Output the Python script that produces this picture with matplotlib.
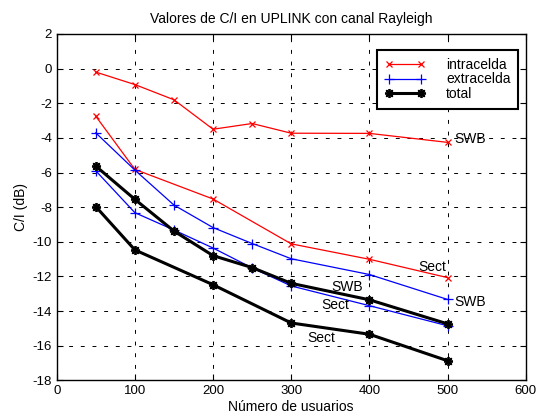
import matplotlib
matplotlib.use("Agg")
import matplotlib.pyplot as plt

plt.rcParams['font.family'] = ['Liberation Sans', 'DejaVu Sans']
plt.rcParams['axes.unicode_minus'] = False

# Data
x_full = [50, 100, 150, 200, 250, 300, 400, 500]
x_part = [50, 100, 200, 300, 400, 500]

intra_swb = [-0.2, -0.92, -1.8, -3.5, -3.17, -3.73, -3.74, -4.26]
intra_sect = [-2.75, -5.82, -7.53, -10.12, -11.01, -12.07]
extra_swb = [-3.71, -5.86, -7.88, -9.18, -10.1, -10.98, -11.89, -13.33]
extra_sect = [-5.9, -8.32, -9.32, -10.36, -11.51, -12.55, -13.69, -14.85]
total_swb = [-5.63, -7.55, -9.38, -10.8, -11.49, -12.4, -13.35, -14.74]
total_sect = [-7.97, -10.47, -12.48, -14.69, -15.34, -16.87]

title = "Valores de C/I en UPLINK con canal Rayleigh"
xlabel = "Número de usuarios"
ylabel = "C/I (dB)"
legend_labels = ["intracelda", "extracelda", "total"]

fig = plt.figure(figsize=(5.36, 4.16), dpi=100)
ax = fig.add_axes([0.1058, 0.0858, 0.875, 0.8325])

red_kw = dict(color='#ff0000', lw=0.9, marker='x', ms=4, mew=0.9)
blue_kw = dict(color='#0000ff', lw=0.9, marker='+', ms=7.5, mew=0.9)
black_kw = dict(color='black', lw=2.2, marker=(8, 2, 0), ms=6.5, mew=1.3)

l1, = ax.plot(x_full, intra_swb, **red_kw)
ax.plot(x_part, intra_sect, **red_kw)
l2, = ax.plot(x_full, extra_swb, **blue_kw)
ax.plot(x_full, extra_sect, **blue_kw)
l3, = ax.plot(x_full, total_swb, **black_kw)
ax.plot(x_part, total_sect, **black_kw)

fs = 10
ax.text(509, -4.07, "SWB", fontsize=fs, va='center', ha='left')
ax.text(463, -11.45, "Sect", fontsize=fs, va='center', ha='left')
ax.text(508.5, -13.49, "SWB", fontsize=fs, va='center', ha='left')
ax.text(350.8, -12.6, "SWB", fontsize=fs, va='center', ha='left')
ax.text(338.9, -13.66, "Sect", fontsize=fs, va='center', ha='left')
ax.text(321, -15.53, "Sect", fontsize=fs, va='center', ha='left')

ax.set_xlim(0, 600)
ax.set_ylim(-18, 2)
ax.set_xticks(range(0, 601, 100))
ax.set_yticks(range(-18, 3, 2))
ax.tick_params(direction='in', top=True, right=True, labelsize=9.5, length=4, width=0.8)
ax.grid(True, color='black', linestyle=(0, (4, 8)), linewidth=0.7)
for s in ax.spines.values():
    s.set_linewidth(1.0)

ax.set_title(title, fontsize=fs, pad=8)
ax.set_xlabel(xlabel, fontsize=fs, labelpad=2)
ax.set_ylabel(ylabel, fontsize=fs, labelpad=3)

leg = ax.legend([l1, l2, l3], legend_labels, loc='upper right', fontsize=fs,
                fancybox=False, framealpha=1, edgecolor='black',
                bbox_to_anchor=(0.9842, 0.9538), borderaxespad=0,
                handlelength=2.9, labelspacing=0.06, borderpad=0.55,
                handletextpad=1.5, markerscale=1.0, numpoints=2)
leg.get_frame().set_linewidth(1.5)

fig.savefig("out.png", dpi=100)
